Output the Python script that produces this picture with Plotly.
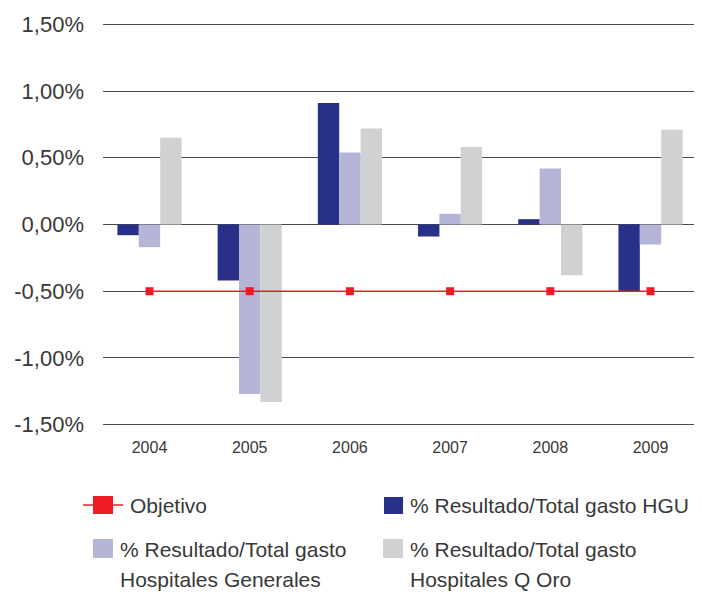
import plotly.graph_objects as go

years = ["2004", "2005", "2006", "2007", "2008", "2009"]
objetivo = [-0.50, -0.50, -0.50, -0.50, -0.50, -0.50]
hgu = [-0.08, -0.42, 0.91, -0.09, 0.04, -0.50]
generales = [-0.17, -1.27, 0.54, 0.08, 0.42, -0.15]
q_oro = [0.65, -1.33, 0.72, 0.58, -0.38, 0.71]

y_tickvals = [1.5, 1.0, 0.5, 0.0, -0.5, -1.0, -1.5]
y_ticktext = ["1,50%", "1,00%", "0,50%", "0,00%", "-0,50%", "-1,00%", "-1,50%"]

names = ["Objetivo", "% Resultado/Total gasto HGU",
         "% Resultado/Total gasto<br>Hospitales Generales",
         "% Resultado/Total gasto<br>Hospitales Q Oro"]

C_NAVY = "#283087"
C_LAV = "#b5b5d8"
C_GRAY = "#d0d1d3"
C_RED = "#ed1c24"
TXT = "#383838"
GRID = "#4a4a4a"
FONT = "Liberation Sans, Arial, sans-serif"

fig = go.Figure()
fig.add_trace(go.Bar(x=years, y=hgu, name=names[1], marker=dict(color=C_NAVY, line=dict(width=0))))
fig.add_trace(go.Bar(x=years, y=generales, name=names[2], marker=dict(color=C_LAV, line=dict(width=0))))
fig.add_trace(go.Bar(x=years, y=q_oro, name=names[3], marker=dict(color=C_GRAY, line=dict(width=0))))
fig.add_trace(go.Scatter(x=years, y=objetivo, name=names[0], mode="lines+markers",
                         line=dict(color=C_RED, width=1.5),
                         marker=dict(symbol="square", size=8, color=C_RED)))

OFF = 8  # page body margin
W, H = 694, 591
L, R, T, B = 95, 5, 15, 173
pw, ph = W - L - R, H - T - B


def px(x):
    return (x - OFF - L) / pw


def py(y):
    return (OFF + T + ph - y) / ph


shapes = []
annotations = []

# Legend: Objetivo
shapes.append(dict(type="line", xref="paper", yref="paper", x0=px(83), x1=px(123), y0=py(505), y1=py(505),
                   line=dict(color=C_RED, width=1.5)))
shapes.append(dict(type="rect", xref="paper", yref="paper", x0=px(93), x1=px(113), y0=py(496), y1=py(514),
                   fillcolor=C_RED, line=dict(width=0)))
# HGU
shapes.append(dict(type="rect", xref="paper", yref="paper", x0=px(384), x1=px(403), y0=py(497), y1=py(514),
                   fillcolor=C_NAVY, line=dict(width=0)))
# Generales
shapes.append(dict(type="rect", xref="paper", yref="paper", x0=px(93), x1=px(113), y0=py(539), y1=py(558),
                   fillcolor=C_LAV, line=dict(width=0)))
# Q Oro
shapes.append(dict(type="rect", xref="paper", yref="paper", x0=px(383), x1=px(403), y0=py(539), y1=py(558),
                   fillcolor=C_GRAY, line=dict(width=0)))

legend_texts = [
    ("Objetivo", 128, 505),
    ("% Resultado/Total gasto HGU", 408, 505),
    ("% Resultado/Total gasto", 118, 549),
    ("Hospitales Generales", 118, 579),
    ("% Resultado/Total gasto", 408, 549),
    ("Hospitales Q Oro", 408, 579),
]
for t, x, y in legend_texts:
    annotations.append(dict(text=t, xref="paper", yref="paper", x=px(x), y=py(y),
                            xanchor="left", yanchor="middle", showarrow=False,
                            font=dict(family=FONT, size=21, color=TXT)))

fig.update_layout(
    width=W, height=H,
    margin=dict(l=L, r=R, t=T, b=B, pad=0),
    paper_bgcolor="white", plot_bgcolor="white",
    barmode="group", bargap=0.36, bargroupgap=0,
    showlegend=False,
    font=dict(family=FONT, color=TXT),
    shapes=shapes, annotations=annotations,
    xaxis=dict(range=[-0.464, 5.464], showgrid=False, showline=False, zeroline=False, ticks="",
               tickfont=dict(size=16, color=TXT), ticklabelstandoff=10),
    yaxis=dict(range=[-1.51, 1.51], tickvals=y_tickvals, ticktext=y_ticktext,
               showgrid=True, gridcolor=GRID, gridwidth=1,
               zeroline=True, zerolinecolor=GRID, zerolinewidth=1,
               showline=False, ticks="", tickfont=dict(size=22, color=TXT),
               ticklabelstandoff=18),
)

fig.write_html("out.html")
